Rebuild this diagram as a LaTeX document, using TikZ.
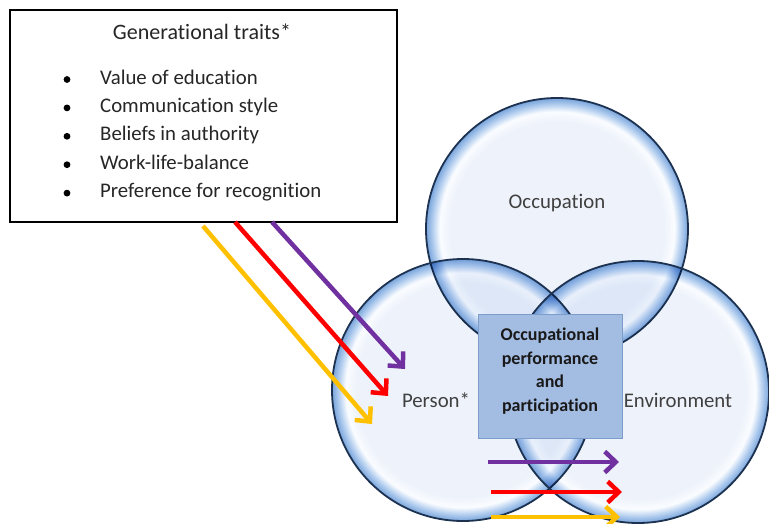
\documentclass[tikz,border=0pt]{standalone}
\usepackage{fontspec}
\setmainfont{Carlito}[Ligatures=NoCommon]
\usetikzlibrary{arrows.meta,calc,positioning}
\definecolor{bubblein}{HTML}{EEF3FB}
\definecolor{bubblehi}{HTML}{FAFCFF}
\definecolor{bubblemid}{HTML}{B0CCEE}
\definecolor{bubbleout}{HTML}{78A4DB}
\definecolor{rimcol}{HTML}{1C3250}
\definecolor{oppfill}{HTML}{A3BCE2}
\definecolor{oppline}{HTML}{7C9CCB}
\definecolor{purp}{HTML}{7030A0}
\definecolor{yell}{HTML}{FFC000}
\pgfdeclareradialshading{bubble}{\pgfpoint{0bp}{0bp}}{color(0bp)=(bubblein); color(20.5bp)=(bubblein); color(22.4bp)=(bubblehi); color(23.8bp)=(bubblemid); color(25bp)=(bubbleout); color(50bp)=(bubbleout)}
\tikzset{
trait/.style={-{Straight Barb[length=11pt,width=21pt]},line width=4.5pt},
bubblefill/.style={shading=bubble,blend mode=multiply},
rim/.style={draw=rimcol,line width=1.8pt},
lbl/.style={font=\fontsize{20.8}{25}\selectfont,text=black!75},
item/.style={anchor=base west,inner sep=0pt,font=\fontsize{20.8}{25}\selectfont,text=black!85}
}

\begin{document}
\begin{tikzpicture}[x=1pt,y=-1pt]
			\useasboundingbox (0,0) rectangle (769,523);
			
			\coordinate (c1) at (557,229);
			\coordinate (c2) at (463,390);
			\coordinate (c3) at (638,392);
			
			%draw bubbles, each one shows through the others
			\foreach \c in {c1,c2,c3}{
				\shade[bubblefill] (\c) circle (131pt);
				\draw[rim] (\c) circle (131pt);
			}
			
			\node[lbl] (occ) at (557,203) {Occupation};
			\node[lbl] (per) at (436,400) {Person*};
			\node[lbl] (env) at (678,400) {Environment};
			
			%centre box
			\node[draw=oppline,fill=oppfill,line width=1pt,minimum width=144pt,minimum height=124pt] (opp) at (550,376) {};
			\node[align=center,font=\fontsize{18}{23.5}\selectfont\bfseries,text=black!90] (oppt) at (550,371) {Occupational\\performance\\and\\participation};
			
			%traits box and list
			\node[draw,line width=1.1pt,minimum width=387pt,minimum height=212pt,inner sep=0pt] (traits) at (203.5,116) {};
			\node[item,anchor=base,font=\fontsize{22}{26}\selectfont] (title) at (202,39) {Generational traits*};
			\foreach \t [count=\i] in {Value of education,Communication style,Beliefs in authority,Work-life-balance,Preference for recognition}{
				\fill (67,{79.5+28.4*(\i-1)}) circle (3.4pt);
				\node[item] (t\i) at (100,{84+28.4*(\i-1)}) {\t};
			}
			
			%arrows into person
			\coordinate (ya) at (203,226);
			\coordinate (yb) at (372,424);
			\coordinate (ra) at (235,222);
			\coordinate (rb) at (388,396);
			\coordinate (pa) at (272,222);
			\coordinate (pb) at (405,369);
			\draw[trait,yell] (ya) -- (yb);
			\draw[trait,red] (ra) -- (rb);
			\draw[trait,purp] (pa) -- (pb);
			
			%arrows into environment
			\coordinate (ph) at (488,462);
			\coordinate (pe) at (619,462);
			\coordinate (rh) at (491,492);
			\coordinate (re) at (622,492);
			\coordinate (yh) at (491,517);
			\coordinate (ye) at (620,517);
			\draw[trait,purp] (ph) -- (pe);
			\draw[trait,red] (rh) -- (re);
			\draw[trait,yell] (yh) -- (ye);
			
\end{tikzpicture}
\end{document}
